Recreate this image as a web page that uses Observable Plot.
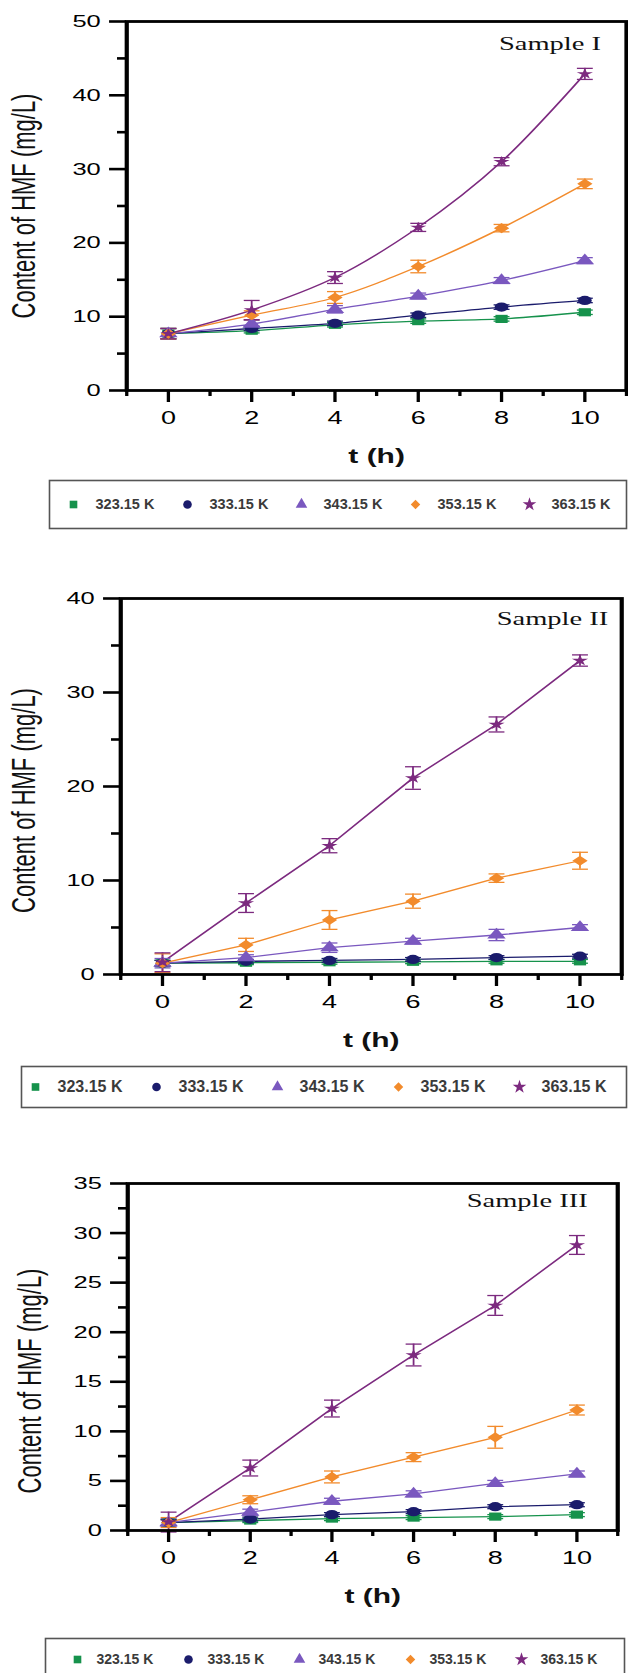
<!DOCTYPE html>
<html>
<head>
<meta charset="utf-8">
<script src="https://cdn.jsdelivr.net/npm/d3@7"></script>
<script src="https://cdn.jsdelivr.net/npm/@observablehq/plot@0.6"></script>
<style>
  html, body { margin: 0; padding: 0; background: #fff; overflow: hidden; }
  #page { position: relative; width: 628px; height: 1673px; overflow: hidden; background: #fff; }
  #charts { position: absolute; left: 0; top: 0; width: 418.667px; height: 1673px; transform: scaleX(1.5); transform-origin: 0 0; }
  .abs { position: absolute; left: 0; }
</style>
</head>
<body>
<div id="page"><div id="charts"></div></div>
<script>
// ---------- data ----------
const hours = [0, 2, 4, 6, 8, 10];
const xMinorTicks = [-1, 1, 3, 5, 7, 9, 11];
const temperatures = ["323.15 K", "333.15 K", "343.15 K", "353.15 K", "363.15 K"];
const colors = ["#16924c", "#1b1c6c", "#7a58bf", "#f28b2c", "#7c2a7f"];
const symbols = ["square", "circle", "triangle", "diamond2", "star"];
const yTitle = "Content of HMF (mg/L)";
const xTitle = "t (h)";

// Sample I (rows follow temperatures)
const sampleI_values = [
  [7.7, 8.1, 8.9, 9.4, 9.7, 10.6],
  [7.7, 8.4, 9.1, 10.2, 11.3, 12.2],
  [7.7, 9.0, 11.0, 12.8, 14.9, 17.6],
  [7.7, 10.2, 12.6, 16.8, 22.0, 28.0],
  [7.7, 10.9, 15.3, 22.1, 31.0, 42.9]
];
const sampleI_errors = [
  [0.7, 0.3, 0.3, 0.3, 0.3, 0.3],
  [0.7, 0.3, 0.3, 0.3, 0.3, 0.3],
  [0.7, 0.5, 0.5, 0.4, 0.4, 0.4],
  [0.7, 0.6, 0.8, 0.85, 0.5, 0.65],
  [0.7, 1.3, 0.8, 0.55, 0.55, 0.75]
];
const sampleI_yTicks = [0, 10, 20, 30, 40, 50];
const sampleI_yMinor = [5, 15, 25, 35, 45];

// Sample II
const sampleII_values = [
  [1.2, 1.25, 1.3, 1.35, 1.4, 1.4],
  [1.2, 1.4, 1.5, 1.6, 1.8, 1.95],
  [1.2, 1.8, 2.85, 3.55, 4.2, 5.0],
  [1.2, 3.15, 5.8, 7.8, 10.25, 12.1],
  [1.3, 7.6, 13.7, 20.9, 26.6, 33.4]
];
const sampleII_errors = [
  [0.3, 0.2, 0.2, 0.2, 0.2, 0.2],
  [0.3, 0.2, 0.2, 0.2, 0.2, 0.2],
  [0.5, 0.3, 0.5, 0.3, 0.6, 0.3],
  [1.0, 0.7, 1.0, 0.75, 0.45, 0.9],
  [1.0, 1.0, 0.75, 1.2, 0.8, 0.6]
];
const sampleII_yTicks = [0, 10, 20, 30, 40];
const sampleII_yMinor = [5, 15, 25, 35];

// Sample III
const sampleIII_values = [
  [0.8, 1.0, 1.2, 1.3, 1.4, 1.6],
  [0.8, 1.15, 1.6, 1.9, 2.4, 2.6],
  [0.8, 1.85, 2.95, 3.7, 4.75, 5.7],
  [0.8, 3.1, 5.4, 7.4, 9.4, 12.15],
  [0.85, 6.3, 12.3, 17.7, 22.7, 28.8]
];
const sampleIII_errors = [
  [0.3, 0.2, 0.2, 0.2, 0.2, 0.2],
  [0.3, 0.2, 0.2, 0.2, 0.2, 0.2],
  [0.4, 0.3, 0.3, 0.3, 0.3, 0.3],
  [0.5, 0.4, 0.6, 0.45, 1.1, 0.5],
  [1.0, 0.8, 0.85, 1.1, 1.0, 0.95]
];
const sampleIII_yTicks = [0, 5, 10, 15, 20, 25, 30, 35];
const sampleIII_yMinor = [2.5, 7.5, 12.5, 17.5, 22.5, 27.5, 32.5];

// ---------- drawing ----------
const W = 628 / 1.5;
const STAR = temperatures[4];
const capSymbol = {
  draw(context, size) {
    const r = Math.sqrt(size / Math.PI);
    context.moveTo(-r, 0);
    context.lineTo(r, 0);
  }
};

function panel(cfg) {
  const rows = [];
  temperatures.forEach((s, i) => hours.forEach((t, j) =>
    rows.push({series: s, t, v: cfg.values[i][j], e: cfg.errors[i][j]})));
  const svg = Plot.plot({
    width: W, height: cfg.height,
    marginTop: cfg.mt, marginBottom: 80, marginLeft: cfg.ml, marginRight: cfg.mr,
    x: {domain: [-1, 11]},
    y: {domain: cfg.yDomain},
    color: {domain: temperatures, range: colors},
    symbol: {domain: temperatures, range: symbols},
    style: {fontFamily: "'Liberation Sans', Arial, sans-serif", fontSize: "17px", color: "#000", background: "transparent", overflow: "visible"},
    marks: [
      Plot.lineY(rows, {x: "t", y: "v", z: "series", stroke: "series", strokeWidth: 1.3, curve: cfg.curve}),
      Plot.ruleX(rows, {x: "t", y1: d => d.v - d.e, y2: d => d.v + d.e, stroke: "series", strokeWidth: 1.2}),
      Plot.dot(rows, {x: "t", y: d => d.v + d.e, symbol: capSymbol, r: 5.3, fill: "none", stroke: "series", strokeWidth: 1.3}),
      Plot.dot(rows, {x: "t", y: d => d.v - d.e, symbol: capSymbol, r: 5.3, fill: "none", stroke: "series", strokeWidth: 1.3}),
      Plot.dot(rows, {filter: d => d.series !== STAR, x: "t", y: "v", symbol: "series", fill: "series", stroke: "none", r: 4.6}),
      Plot.dot(rows, {filter: d => d.series === STAR, x: "t", y: "v", symbol: "series", fill: "series", stroke: "none", r: 3.4}),
      Plot.frame({stroke: "#000", strokeWidth: 2.8}),
      Plot.axisY(cfg.yTicks, {tickSize: 11.3, tickPadding: 6, strokeWidth: 2.6, fontSize: 17, label: null, stroke: "#000"}),
      Plot.axisY(cfg.yMinor, {tickSize: 6, tickFormat: () => "", strokeWidth: 2.6, label: null, stroke: "#000"}),
      Plot.axisX(hours, {tickSize: 12, tickPadding: 9, strokeWidth: 2.2, fontSize: 18, label: null, stroke: "#000"}),
      Plot.axisX(xMinorTicks, {tickSize: 6, tickFormat: () => "", strokeWidth: 2.2, label: null, stroke: "#000"}),
      Plot.text([cfg.name], {text: d => d, frameAnchor: "top-right", textAnchor: "end", lineAnchor: "middle", dx: cfg.ndx, dy: cfg.ndy, fontFamily: "'Liberation Serif', 'Times New Roman', serif", fontSize: 19, fill: "#111"}),
      Plot.text([yTitle], {text: d => d, frameAnchor: "left", rotate: -90, textAnchor: "middle", lineAnchor: "middle", dx: cfg.ytdx, dy: cfg.ytdy, fontSize: 22, fill: "#111"}),
      Plot.text([xTitle], {text: d => d, frameAnchor: "bottom", textAnchor: "middle", lineAnchor: "middle", dy: 66, fontSize: 20, fontWeight: "bold", fill: "#111"})
    ]
  });
  svg.classList.add("abs");
  svg.style.top = cfg.top + "px";
  document.getElementById("charts").appendChild(svg);
}

function legend(cfg) {
  const svg = Plot.plot({
    width: 628, height: cfg.height,
    marginTop: 1, marginBottom: 1, marginLeft: cfg.ml, marginRight: cfg.mr,
    x: {type: "point", domain: temperatures, range: cfg.range, padding: 0, axis: null},
    color: {domain: temperatures, range: colors},
    symbol: {domain: temperatures, range: symbols},
    style: {fontFamily: "'Liberation Sans', Arial, sans-serif", background: "transparent", overflow: "visible"},
    marks: [
      Plot.frame({stroke: "#555", strokeWidth: 1.6}),
      Plot.dot(temperatures, {x: d => d, symbol: d => d, fill: d => d, stroke: "none", r: 4.3}),
      Plot.text(temperatures, {x: d => d, text: d => d, dx: cfg.dx, textAnchor: "start", fontSize: cfg.fontSize, fontWeight: "bold", fill: "#3a3a3a"})
    ]
  });
  svg.classList.add("abs");
  svg.style.top = cfg.top + "px";
  document.getElementById("page").appendChild(svg);
}

panel({name: "Sample I", values: sampleI_values, errors: sampleI_errors, yDomain: [0, 50],
  yTicks: sampleI_yTicks, yMinor: sampleI_yMinor, curve: "catmull-rom",
  top: 0, height: 470, mt: 21, ml: 84, mr: 1.5, ndx: -17, ndy: 22, ytdx: -68, ytdy: 0});
panel({name: "Sample II", values: sampleII_values, errors: sampleII_errors, yDomain: [0, 40],
  yTicks: sampleII_yTicks, yMinor: sampleII_yMinor, curve: "linear",
  top: 560, height: 494, mt: 38, ml: 80, mr: 4.67, ndx: -9, ndy: 20, ytdx: -64, ytdy: 14});
panel({name: "Sample III", values: sampleIII_values, errors: sampleIII_errors, yDomain: [0, 35],
  yTicks: sampleIII_yTicks, yMinor: sampleIII_yMinor, curve: "linear",
  top: 1150, height: 460, mt: 33, ml: 84.67, mr: 7.33, ndx: -20, ndy: 17, ytdx: -65, ytdy: 24});

legend({top: 479, height: 50, ml: 49, mr: 2, range: [72, 530], dx: 22, fontSize: 14.5});
legend({top: 1065, height: 43, ml: 21, mr: 2, range: [34, 519], dx: 22, fontSize: 16});
legend({top: 1637, height: 44, ml: 45, mr: 4, range: [76, 522], dx: 19, fontSize: 14});
</script>
</body>
</html>
